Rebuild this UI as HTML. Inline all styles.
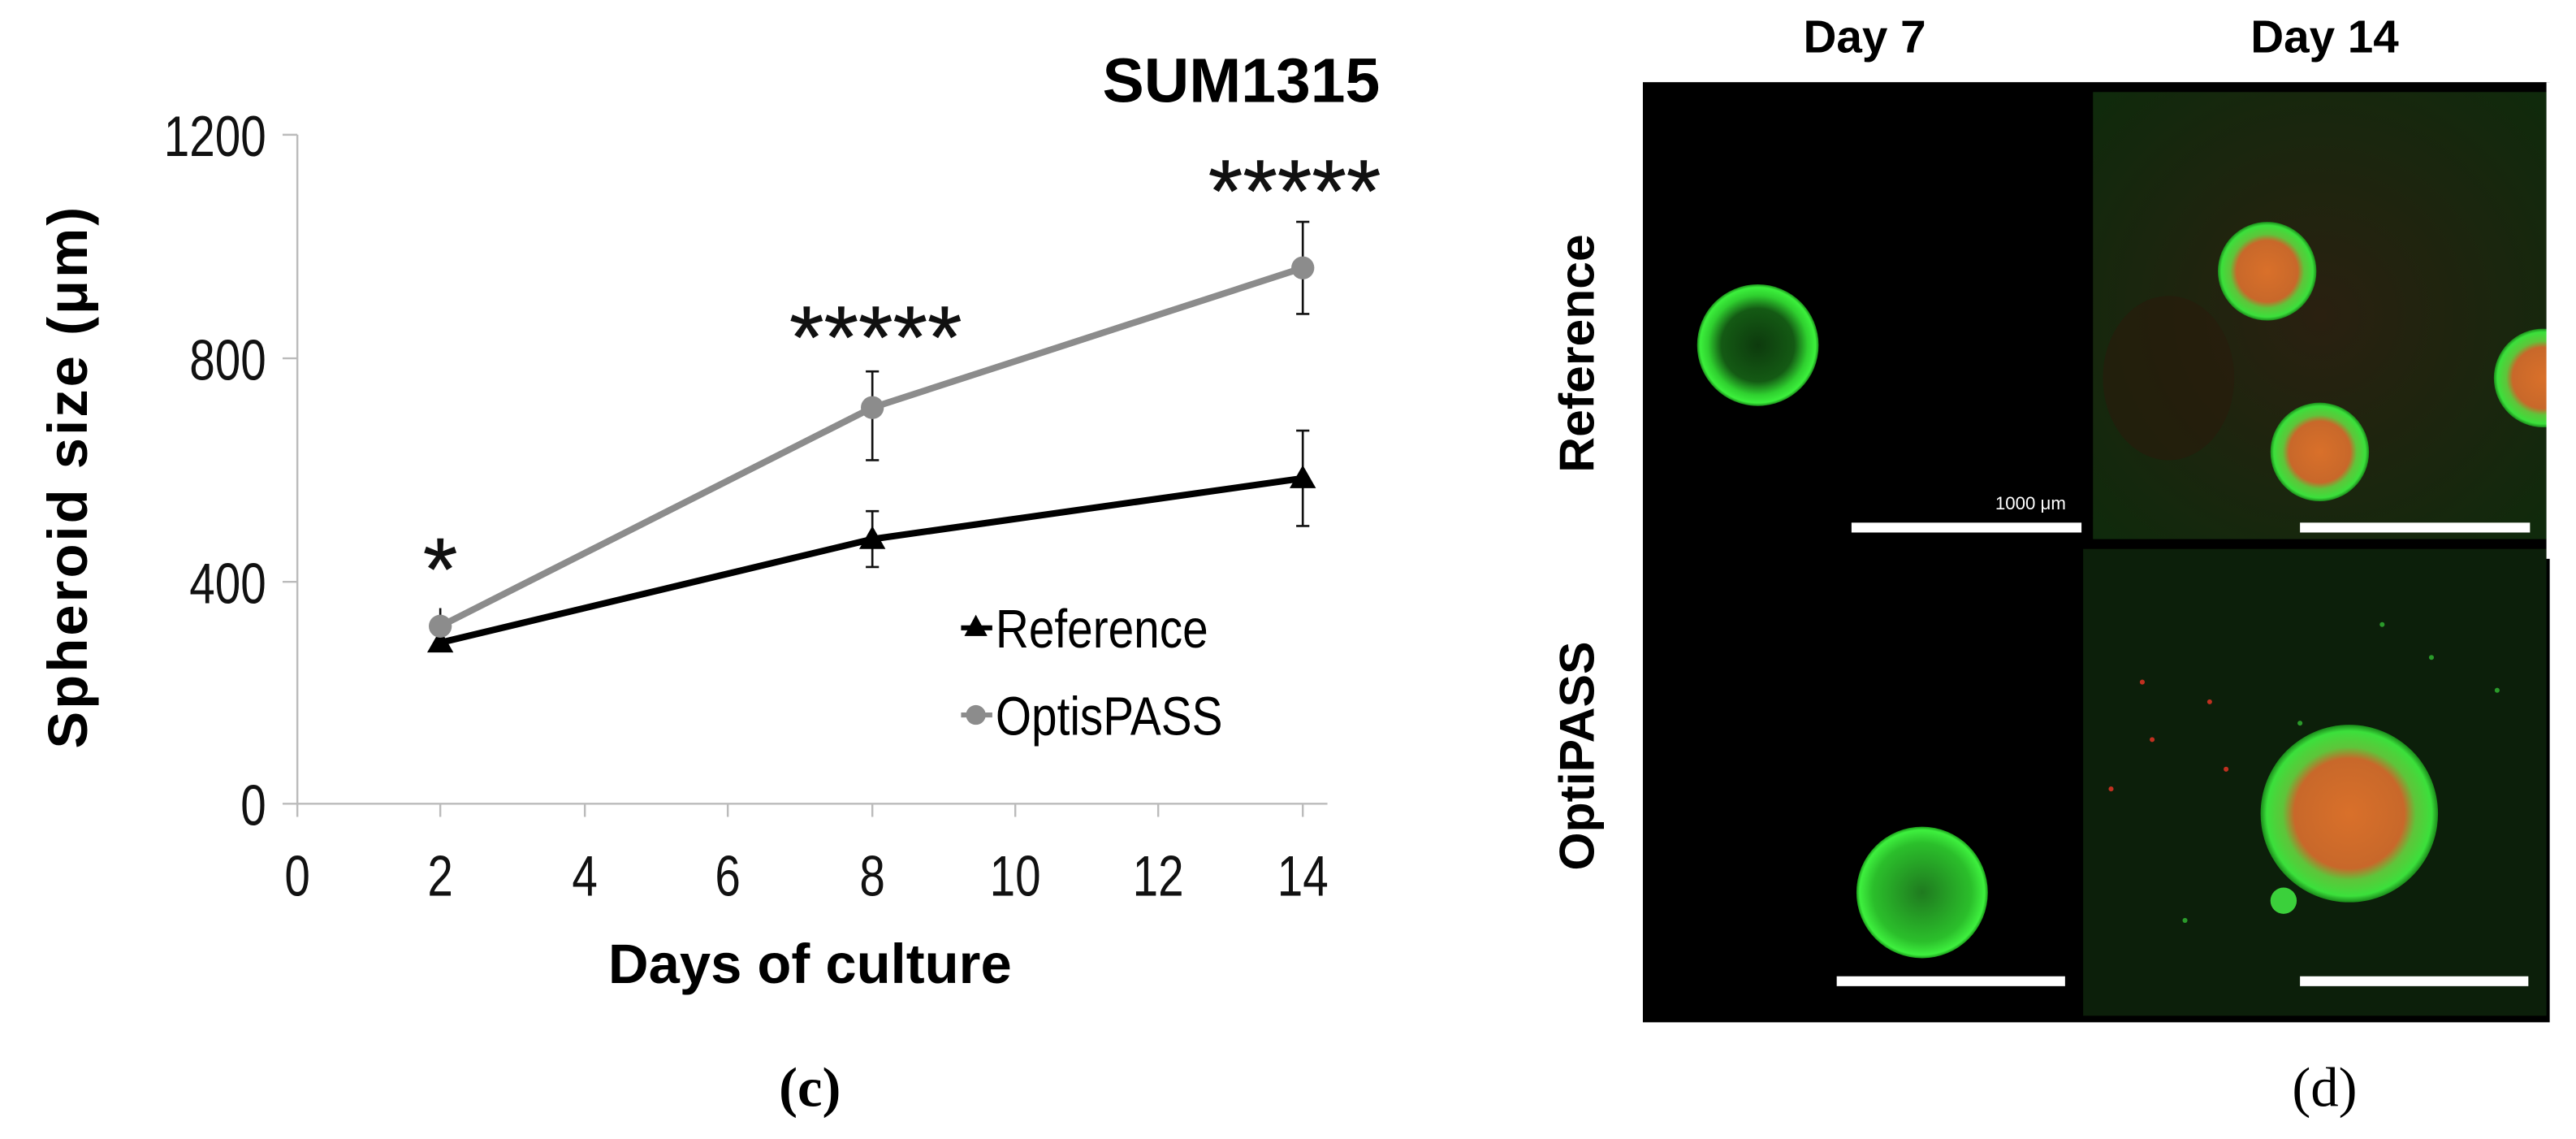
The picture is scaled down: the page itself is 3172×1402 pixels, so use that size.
<!DOCTYPE html>
<html><head><meta charset="utf-8"><style>
html,body{margin:0;padding:0;background:#fff;}
svg{display:block;}
</style></head><body>
<svg width="3172" height="1402" viewBox="0 0 1568 693" preserveAspectRatio="none" xmlns="http://www.w3.org/2000/svg">
<defs>
<radialGradient id="gring" cx="50%" cy="50%" r="50%">
<stop offset="0" stop-color="#0d3a0d"/><stop offset="0.6" stop-color="#145a14"/><stop offset="0.82" stop-color="#2fd02f"/><stop offset="0.95" stop-color="#3cf03c"/><stop offset="1" stop-color="#1a8a1a"/>
</radialGradient>
<radialGradient id="gfill" cx="50%" cy="50%" r="50%">
<stop offset="0" stop-color="#1f7a1f"/><stop offset="0.75" stop-color="#2bbf2b"/><stop offset="0.95" stop-color="#3ef03e"/><stop offset="1" stop-color="#1a9a1a"/>
</radialGradient>
<radialGradient id="orng" cx="50%" cy="50%" r="50%">
<stop offset="0" stop-color="#d9702a"/><stop offset="0.62" stop-color="#c8682a"/><stop offset="0.75" stop-color="#5fc43a"/><stop offset="0.93" stop-color="#3be03b"/><stop offset="1" stop-color="#1b8a1b"/>
</radialGradient>
<radialGradient id="bg14" cx="50%" cy="50%" r="70%">
<stop offset="0" stop-color="#2a2010"/><stop offset="1" stop-color="#0f2a0c"/>
</radialGradient>
</defs>
<g font-family="Liberation Sans, sans-serif">
<text x="840" y="62" font-size="38" font-weight="bold" text-anchor="end">SUM1315</text>
<line x1="181" y1="82" x2="181" y2="489" stroke="#bbb" stroke-width="1.2"/>
<line x1="172" y1="489" x2="808" y2="489" stroke="#bbb" stroke-width="1.2"/>
<g stroke="#bbb" stroke-width="1.2">
<line x1="172" y1="82" x2="181" y2="82"/><line x1="172" y1="218" x2="181" y2="218"/><line x1="172" y1="354" x2="181" y2="354"/>
<line x1="181" y1="489" x2="181" y2="497"/><line x1="268" y1="489" x2="268" y2="497"/><line x1="356" y1="489" x2="356" y2="497"/><line x1="443" y1="489" x2="443" y2="497"/><line x1="531" y1="489" x2="531" y2="497"/><line x1="618" y1="489" x2="618" y2="497"/><line x1="705" y1="489" x2="705" y2="497"/><line x1="793" y1="489" x2="793" y2="497"/>
</g>
<g font-size="35" text-anchor="end" fill="#111">
<text x="162" y="95" transform="translate(162 0) scale(0.8 1) translate(-162 0)">1200</text>
<text x="162" y="231" transform="translate(162 0) scale(0.8 1) translate(-162 0)">800</text>
<text x="162" y="367" transform="translate(162 0) scale(0.8 1) translate(-162 0)">400</text>
<text x="162" y="502" transform="translate(162 0) scale(0.8 1) translate(-162 0)">0</text>
</g>
<g font-size="35" text-anchor="middle" fill="#111">
<text x="181" y="545" transform="translate(181 0) scale(0.8 1) translate(-181 0)">0</text>
<text x="268" y="545" transform="translate(268 0) scale(0.8 1) translate(-268 0)">2</text>
<text x="356" y="545" transform="translate(356 0) scale(0.8 1) translate(-356 0)">4</text>
<text x="443" y="545" transform="translate(443 0) scale(0.8 1) translate(-443 0)">6</text>
<text x="531" y="545" transform="translate(531 0) scale(0.8 1) translate(-531 0)">8</text>
<text x="618" y="545" transform="translate(618 0) scale(0.8 1) translate(-618 0)">10</text>
<text x="705" y="545" transform="translate(705 0) scale(0.8 1) translate(-705 0)">12</text>
<text x="793" y="545" transform="translate(793 0) scale(0.8 1) translate(-793 0)">14</text>
</g>
<text x="493" y="598" font-size="34" font-weight="bold" text-anchor="middle">Days of culture</text>
<text transform="translate(53 290) rotate(-90)" font-size="34" font-weight="bold" letter-spacing="1.5" text-anchor="middle">Spheroid size (μm)</text>
<g stroke="#111" stroke-width="1.3">
<line x1="268" y1="370" x2="268" y2="388"/>
<line x1="531" y1="226" x2="531" y2="280"/><line x1="527" y1="226" x2="535" y2="226"/><line x1="527" y1="280" x2="535" y2="280"/>
<line x1="793" y1="135" x2="793" y2="191"/><line x1="789" y1="135" x2="797" y2="135"/><line x1="789" y1="191" x2="797" y2="191"/>
<line x1="531" y1="311" x2="531" y2="345"/><line x1="527" y1="311" x2="535" y2="311"/><line x1="527" y1="345" x2="535" y2="345"/>
<line x1="793" y1="262" x2="793" y2="320"/><line x1="789" y1="262" x2="797" y2="262"/><line x1="789" y1="320" x2="797" y2="320"/>
</g>
<polyline points="268,391 531,328 793,291" fill="none" stroke="#000" stroke-width="4"/>
<polyline points="268,381 531,248 793,163" fill="none" stroke="#8c8c8c" stroke-width="4"/>
<g fill="#000">
<polygon points="268,383 276,397 260,397"/><polygon points="531,320 539,334 523,334"/><polygon points="793,283 801,297 785,297"/>
</g>
<g fill="#8c8c8c"><circle cx="268" cy="381" r="7"/><circle cx="531" cy="248" r="7"/><circle cx="793" cy="163" r="7"/></g>
<g font-size="54" text-anchor="middle" fill="#111" stroke="#111" stroke-width="0.3">
<text x="268" y="365">*</text><text x="533" y="224">*****</text><text x="788" y="135">*****</text>
</g>
<line x1="585" y1="382" x2="604" y2="382" stroke="#000" stroke-width="3"/>
<polygon points="594,374 601,387 587,387" fill="#000"/>
<text x="606" y="394" font-size="33" transform="translate(606 0) scale(0.85 1) translate(-606 0)">Reference</text>
<line x1="585" y1="435" x2="604" y2="435" stroke="#8c8c8c" stroke-width="3"/>
<circle cx="594" cy="435" r="6" fill="#8c8c8c"/>
<text x="606" y="447" font-size="33" transform="translate(606 0) scale(0.85 1) translate(-606 0)">OptisPASS</text>
<text x="493" y="673" font-family="Liberation Serif, serif" font-size="34" font-weight="bold" text-anchor="middle">(c)</text>

<text x="1135" y="32" font-size="28" font-weight="bold" text-anchor="middle">Day 7</text>
<text x="1415" y="32" font-size="28" font-weight="bold" text-anchor="middle">Day 14</text>
<text transform="translate(970 215) rotate(-90)" font-size="30" font-weight="bold" text-anchor="middle">Reference</text>
<text transform="translate(970 460) rotate(-90)" font-size="30" font-weight="bold" text-anchor="middle">OptiPASS</text>
<rect x="1000" y="50" width="552" height="572" fill="#000"/>
<rect x="1274" y="56" width="276" height="272" fill="url(#bg14)"/>
<rect x="1268" y="334" width="282" height="284" fill="#0c1f0a"/>
<ellipse cx="1320" cy="230" rx="40" ry="50" fill="#2a1a0c" opacity="0.6"/>
<circle cx="1070" cy="210" r="37" fill="url(#gring)"/>
<circle cx="1380" cy="165" r="30" fill="url(#orng)"/>
<circle cx="1412" cy="275" r="30" fill="url(#orng)"/>
<circle cx="1548" cy="230" r="30" fill="url(#orng)"/>
<rect x="1550" y="50" width="18" height="290" fill="#fff"/>
<circle cx="1170" cy="543" r="40" fill="url(#gfill)"/>
<circle cx="1430" cy="495" r="54" fill="url(#orng)"/>
<circle cx="1390" cy="548" r="8" fill="#3bd03b"/>
<g fill="#c03020"><circle cx="1304" cy="415" r="1.5"/><circle cx="1345" cy="427" r="1.5"/><circle cx="1355" cy="468" r="1.5"/><circle cx="1285" cy="480" r="1.5"/><circle cx="1310" cy="450" r="1.5"/></g>
<g fill="#2a9a2a"><circle cx="1400" cy="440" r="1.5"/><circle cx="1480" cy="400" r="1.5"/><circle cx="1520" cy="420" r="1.5"/><circle cx="1330" cy="560" r="1.5"/><circle cx="1450" cy="380" r="1.5"/></g>
<g fill="#fff">
<rect x="1127" y="318" width="140" height="6"/><rect x="1400" y="318" width="140" height="6"/>
<rect x="1118" y="594" width="139" height="6"/><rect x="1400" y="594" width="139" height="6"/>
</g>
<text x="1236" y="310" font-size="11" fill="#fff" text-anchor="middle">1000 μm</text>
<text x="1415" y="673" font-family="Liberation Serif, serif" font-size="34" text-anchor="middle">(d)</text>
</g>
</svg>
</body></html>
